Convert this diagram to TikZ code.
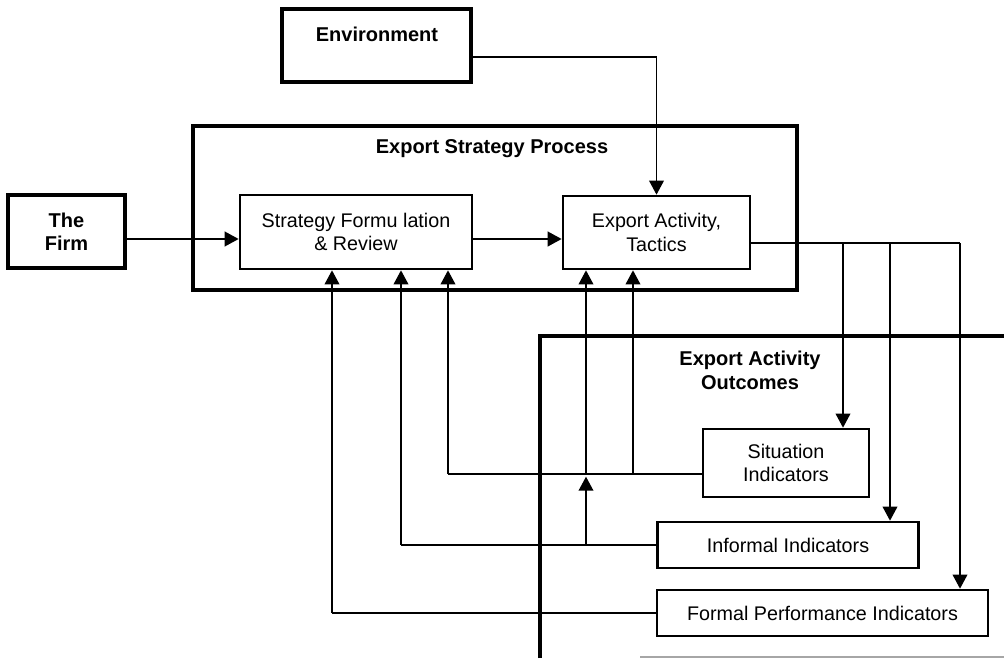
\documentclass[tikz,border=0pt]{standalone}
\usepackage{fontspec}
\setmainfont{Liberation Sans}
\usetikzlibrary{arrows.meta,calc}

\begin{document}
\begin{tikzpicture}[x=0.75pt,y=-0.75pt,
  box/.style={draw,line width=2pt,rectangle,inner sep=0pt,align=center,
    font=\fontsize{14.8}{17.5}\selectfont},
  heavybox/.style={box,line width=2.4pt,font=\bfseries\fontsize{15}{17.5}\selectfont},
  framebox/.style={draw,line width=2.7pt,rectangle,inner sep=0pt},
  frameline/.style={line width=2.7pt},
  title/.style={font=\bfseries\fontsize{15}{18}\selectfont,align=center,inner sep=0pt},
  link/.style={line width=1.5pt},
  thin link/.style={line width=1.1pt},
  tip/.style={-{Triangle[length=10.5pt,width=11pt]}},
]
\useasboundingbox (0,0) rectangle (1004,658);

% outer process frames
\node[framebox,minimum width=453pt,minimum height=123pt] (esp) at (495,208) {};
\node[title] (esptitle) at (492,149) {Export Strategy Process};
\draw[frameline] (540,658) -- (540,336) -- (1004,336);
\node[title] (octitle) at (750,370) {Export Activity\\Outcomes};

% boxes
\node[heavybox,minimum width=141.75pt,minimum height=54.75pt] (env) at (376.5,45.5) {};
\node[title] (envtitle) at (377,34) {Environment};
\node[heavybox,minimum width=87.75pt,minimum height=54.75pt] (firm) at (66.5,231.5) {The\\Firm};
\node[box,minimum width=174pt,minimum height=55.5pt] (sfr) at (356,232) {Strategy Formu lation\\\& Review};
\node[box,minimum width=140.25pt,minimum height=54.75pt] (eat) at (656.5,232.5) {Export Activity,\\Tactics};
\node[box,minimum width=124.5pt,minimum height=51pt] (sit) at (786,463) {Situation\\Indicators};
\node[box,minimum width=195.75pt,minimum height=34.5pt] (inf) at (788,545) {Informal Indicators};
\node[box,minimum width=248.25pt,minimum height=34.5pt] (fpi) at (822.5,613) {Formal Performance Indicators};

% reference rows and junctions
\coordinate (row) at (0,239);
\coordinate (envrow) at (0,57);
\coordinate (outrow) at (0,243);
\coordinate (j1) at (843,243);
\coordinate (j2) at (890,243);
\coordinate (j3) at (960,243);
\coordinate (sitrow) at (0,474);
\coordinate (f1) at (448,474);
\coordinate (f2) at (633,474);
\coordinate (g1) at (401,545);
\coordinate (g2) at (586,545);
\coordinate (h1) at (332,613);

% forward flow
\draw[link,tip] (firm.east|-row) -- (sfr.west|-row);
\draw[link,tip] (sfr.east|-row) -- (eat.west|-row);
\draw[thin link,tip] (env.east|-envrow) -| (eat.north);
\draw[link] (eat.east|-outrow) -- (j3);
\draw[thin link,tip] (j1) -- (sit.north-|j1);
\draw[thin link,tip] (j2) -- (inf.north-|j2);
\draw[thin link,tip] (j3) -- (fpi.north-|j3);

% feedback from the indicators
\draw[link] (sit.west|-sitrow) -- (f1);
\draw[thin link,tip] (f1) -- (sfr.south-|f1);
\draw[thin link,tip] (f2) -- (eat.south-|f2);
\draw[link] (inf.west) -- (g1);
\draw[thin link,tip] (g1) -- (sfr.south-|g1);
\draw[thin link,tip,shorten >=2pt] (g2) -- (g2|-sitrow);
\draw[thin link,tip] (g2|-sitrow) -- (eat.south-|g2);
\draw[link] (fpi.west) -- (h1);
\draw[thin link,tip] (h1) -- (sfr.south-|h1);

% page edge
\draw[gray!70,line width=1.2pt] (640,657) -- (1004,657);
\end{tikzpicture}
\end{document}
